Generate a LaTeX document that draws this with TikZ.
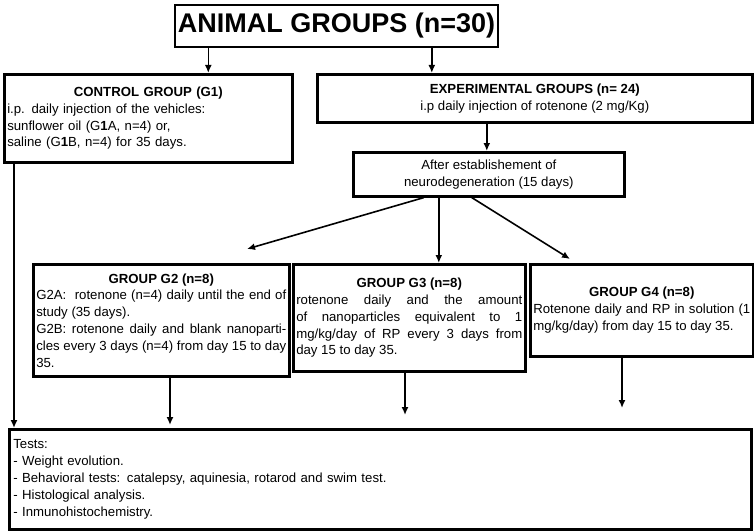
\documentclass[tikz,border=0pt]{standalone}
\usepackage{fontspec}
\setmainfont{Liberation Sans}
\usetikzlibrary{arrows.meta}
\newcommand\justpar{\leftskip=0pt \rightskip=0pt \parfillskip=0pt plus 1fil\hyphenpenalty=10000\relax}
\begin{document}
\begin{tikzpicture} [
		x = 1pt,
		y = -1pt,
		box/.style = {
			draw,
			line width = 2.6pt,
			rectangle,
			inner sep = 3pt,
			font = \fontsize{13.2}{16.8}\selectfont,
		},
		line/.style = {
			draw,
			line width = 1.6pt,
			-{Latex[length=8pt,width=7pt]},
		},
	]
	\useasboundingbox (0,0) rectangle (754,532);

	\node[box, minimum width = 321pt, minimum height = 42pt,
		font = \fontsize{27}{30}\selectfont\bfseries] (title) at (336.5,26) {ANIMAL GROUPS (n=30)};

	\node[box, anchor = north west, text width = 282pt, minimum height = 88pt, align = left] (control) at (3,73) {
		\centering\textbf{CONTROL GROUP (G1)}\par
		\raggedright i.p. daily injection of the vehicles:\\ sunflower oil (G\textbf{1}A, n=4) or,\\ saline (G\textbf{1}B, n=4) for 35 days.
	};
	\node[box, anchor = north west, minimum width = 435pt, minimum height = 48pt, align = center] (exp) at (316,73) {
		\textbf{EXPERIMENTAL GROUPS\ (n= 24)}\\ i.p daily injection of rotenone (2 mg/Kg)
	};
	\node[box, anchor = north west, minimum width = 271pt, minimum height = 44pt, align = center] (after) at (352,151) {
		After establishement of\\ neurodegeneration (15 days)
	};

	\node[box, anchor = north west, text width = 250pt, minimum height = 112pt, align = justify] (gtwo) at (32,263) {
		\centering\textbf{GROUP G2 (n=8)}\par
		\justpar G2A:\ \ rotenone (n=4) daily until the end of study (35 days).\par
		G2B: rotenone daily and blank nanoparticles every 3 days (n=4) from day 15 to day 35.
	};
	\node[box, anchor = north west, text width = 226pt, minimum height = 107pt, align = justify] (gthree) at (292,263) {
		\centering\textbf{GROUP G3 (n=8)}\par
		\justpar rotenone daily and the amount of nanoparticles equivalent to 1 mg/kg/day of RP every 3 days from day 15 to day 35.
	};
	\node[box, anchor = north west, text width = 217pt, minimum height = 92pt, align = justify] (gfour) at (529,263) {
		\centering\textbf{GROUP G4 (n=8)}\par
		\justpar Rotenone daily and RP in solution (1 mg/kg/day) from day 15 to day 35.
	};

	\node[box, anchor = north west, text width = 734pt, minimum height = 100pt, align = left, inner sep = 4pt] (tests) at (8,428) {
		Tests:\\
		- Weight evolution.\\
		- Behavioral tests: catalepsy, aquinesia, rotarod and swim test.\\
		- Histological analysis.\\
		- Inmunohistochemistry.
	};

	% connectors
	\coordinate (gtwoEnd) at (170,425);
	\coordinate (gthreeEnd) at (405,415);
	\coordinate (gfourEnd) at (622,408);
	\coordinate (gtwoTip) at (247,249);
	\coordinate (gfourTip) at (570,259);
	\begin{scope} [every path/.style = line]
		\path (title.south -| control.north) ++(60,0) coordinate (a) -- (a |- control.north);
		\path (title.south -| exp.north) ++(-103,0) coordinate (b) -- (b |- exp.north);
		\path (exp.south) ++(-48,0) coordinate (c) -- (c |- after.north);
		\path (after.south) ++(-65,0) -- (gtwoTip);
		\path (after.south) ++(-50,0) coordinate (d) -- (d |- gthree.north);
		\path (after.south) ++(-17,0) -- (gfourTip);
		\path (control.south west) ++(11,0) coordinate (e) -- (e |- tests.north);
		\path (gtwo.south -| gtwoEnd) -- (gtwoEnd);
		\path (gthree.south -| gthreeEnd) -- (gthreeEnd);
		\path (gfour.south -| gfourEnd) -- (gfourEnd);
	\end{scope}
\end{tikzpicture}
\end{document}
